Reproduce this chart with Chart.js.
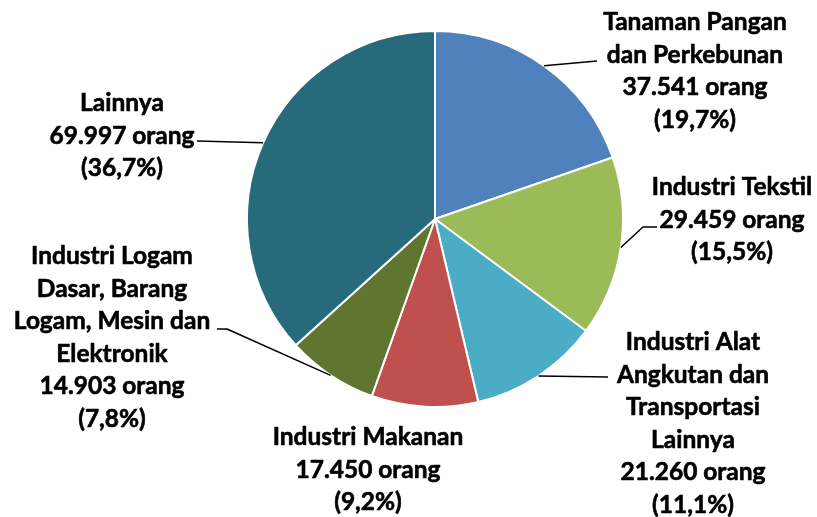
<!DOCTYPE html>
<html>
<head>
<meta charset="utf-8">
<script src="https://cdn.jsdelivr.net/npm/chart.js@4"></script>
<style>
  html, body { margin: 0; padding: 0; background: #fff; }
  #wrap { width: 817px; height: 517px; }
</style>
</head>
<body>
<div id="wrap"><canvas id="pie" width="817" height="517"></canvas></div>
<script>
// data
const sektor = [
    "Tanaman Pangan\ndan Perkebunan",
    "Industri Tekstil",
    "Industri Alat\nAngkutan dan\nTransportasi\nLainnya",
    "Industri Makanan",
    "Industri Logam\nDasar, Barang\nLogam, Mesin dan\nElektronik",
    "Lainnya"
];
const jumlahOrang = [37541, 29459, 21260, 17450, 14903, 69997];
const persen = ["19,7%", "15,5%", "11,1%", "9,2%", "7,8%", "36,7%"];
const warna = ["#4F81BD", "#9BBB59", "#4BACC6", "#C0504D", "#5F7530", "#276A7C"];

// posisi label (relatif ke pusat pie): tengah teks, baris pertama, titik siku garis
const labelPos = [
    { dx: 260, dy: -197, elbow: [[162, -158]] },
    { dx: 297, dy: -32, elbow: [[208, 8], [222, 8]] },
    { dx: 258, dy: 123, elbow: [[173, 158]] },
    { dx: -67, dy: 218, elbow: null },
    { dx: -323, dy: 37, elbow: [[-208, 110], [-218, 110]] },
    { dx: -313, dy: -116, elbow: [[-238, -78]] }
];

const FONT = "Lato";
const LINE_H = 32.6;

function fmtAngka(n) {
    return new Intl.NumberFormat("de-DE").format(n);
}

const labelPlugin = {
    id: "pieLabels",
    afterDatasetsDraw(chart) {
        const ctx = chart.ctx;
        const meta = chart.getDatasetMeta(0);
        ctx.save();
        ctx.font = "bold 24.5px " + FONT;
        ctx.fillStyle = "#000";
        ctx.textAlign = "center";
        ctx.textBaseline = "middle";
        meta.data.forEach((arc, i) => {
            const cx = arc.x, cy = arc.y;
            const mid = (arc.startAngle + arc.endAngle) / 2;
            const r = arc.outerRadius;
            const pos = labelPos[i];
            // garis penunjuk
            if (pos.elbow) {
                ctx.beginPath();
                ctx.strokeStyle = "#000";
                ctx.lineWidth = 1.5;
                ctx.moveTo(cx + Math.cos(mid) * r, cy + Math.sin(mid) * r);
                pos.elbow.forEach(p => ctx.lineTo(cx + p[0], cy + p[1]));
                ctx.stroke();
            }
            const lines = sektor[i].split("\n");
            lines.push(fmtAngka(jumlahOrang[i]) + " orang");
            lines.push("(" + persen[i] + ")");
            // sedikit stroke supaya lebih tebal (mirip Calibri bold)
            ctx.lineWidth = 0.6;
            ctx.lineJoin = "round";
            lines.forEach((t, k) => {
                const x = cx + pos.dx, y = cy + pos.dy + k * LINE_H;
                ctx.fillText(t, x, y);
                ctx.strokeText(t, x, y);
            });
        });
        ctx.restore();
    }
};

new Chart(document.getElementById("pie"), {
    type: "pie",
    data: {
        labels: sektor,
        datasets: [{
            data: jumlahOrang,
            backgroundColor: warna,
            borderColor: "#fff",
            borderWidth: 2
        }]
    },
    options: {
        responsive: false,
        animation: false,
        layout: { padding: { left: 246, right: 193, top: 30, bottom: 109 } },
        plugins: {
            legend: { display: false },
            tooltip: { enabled: false }
        }
    },
    plugins: [labelPlugin]
});
</script>
</body>
</html>
